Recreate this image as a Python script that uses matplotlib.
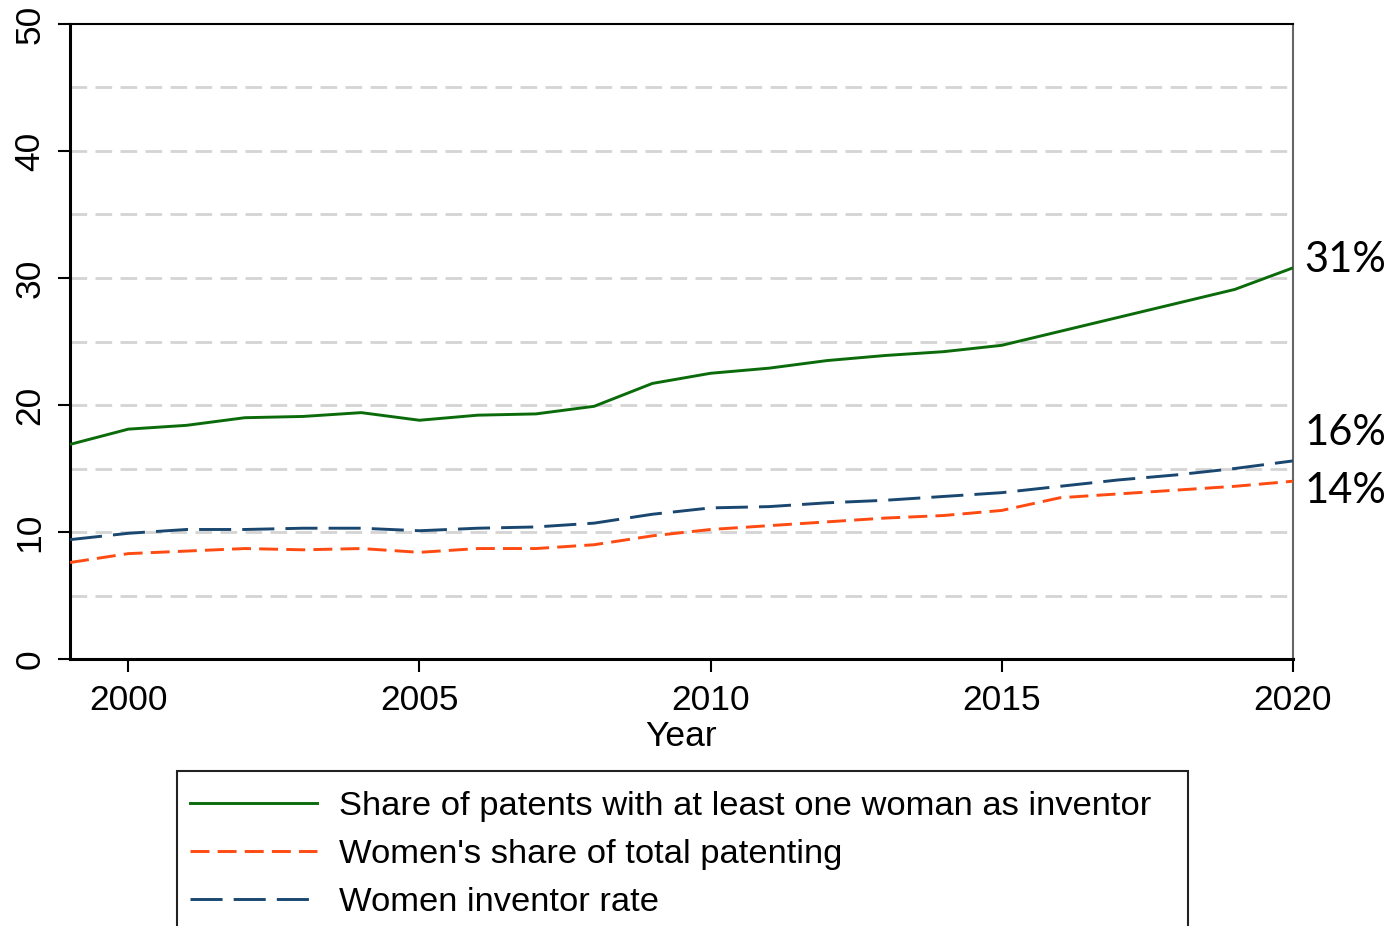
import matplotlib
matplotlib.use("Agg")
import matplotlib.pyplot as plt
from matplotlib.patches import Rectangle
from matplotlib.lines import Line2D

matplotlib.rcParams.update({
    "font.family": "Liberation Sans",
    "font.size": 25,
})

# ── data ──────────────────────────────────────────────────────────────────────
years = list(range(1999, 2021))
share_any_woman = [16.9, 18.1, 18.4, 19.0, 19.1, 19.4, 18.8, 19.2, 19.3, 19.9, 21.7,
                   22.5, 22.9, 23.5, 23.9, 24.2, 24.7, 25.8, 26.9, 28.0, 29.1, 30.8]
women_share = [7.6, 8.3, 8.5, 8.7, 8.6, 8.7, 8.4, 8.7, 8.7, 9.0, 9.7,
               10.2, 10.5, 10.8, 11.1, 11.3, 11.7, 12.7, 13.0, 13.3, 13.6, 14.0]
inventor_rate = [9.4, 9.9, 10.2, 10.2, 10.3, 10.3, 10.1, 10.3, 10.4, 10.7, 11.4,
                 11.9, 12.0, 12.3, 12.5, 12.8, 13.1, 13.6, 14.1, 14.5, 15.0, 15.6]
series_labels = ["Share of patents with at least one woman as inventor",
                 "Women's share of total patenting",
                 "Women inventor rate"]
end_labels = ["31%", "16%", "14%"]
end_label_y = [31.4, 17.8, 13.2]

C_GREEN = "#0b6b0b"
C_ORANGE = "#ff4a12"
C_BLUE = "#1a476f"
C_GRID = "#d4d4d4"

fig = plt.figure(figsize=(13.93, 9.26), dpi=100)
ax = fig.add_axes([0.0503, 0.2883, 0.8779, 0.6858])

# grid lines every 5
for gy in range(5, 50, 5):
    ax.axhline(gy, color=C_GRID, lw=2.0, dashes=(6, 3), zorder=1)

ax.plot(years, share_any_woman, color=C_GREEN, lw=2.1, zorder=3)
ax.plot(years, women_share, color=C_ORANGE, lw=2.1, dashes=(6.5, 2.8), zorder=3)
ax.plot(years, inventor_rate, color=C_BLUE, lw=2.1, dashes=(11, 3.8), zorder=3)

ax.set_xlim(1999, 2020)
ax.set_ylim(0, 50)
ax.set_xticks(range(2000, 2021, 5))
ax.set_yticks(range(0, 51, 10))
ax.tick_params(axis="both", length=9, width=1.5, colors="black", labelsize=25.5)
ax.tick_params(axis="y", labelrotation=90, pad=8)
for lbl in ax.get_yticklabels():
    lbl.set_va("center")
ax.tick_params(axis="x", pad=9)
ax.set_xlabel("Year", fontsize=25.5, labelpad=2)

ax.spines["left"].set_linewidth(2.2)
ax.spines["bottom"].set_linewidth(2.2)
ax.spines["top"].set_linewidth(1.5)
ax.spines["right"].set_linewidth(1.5)
ax.spines["right"].set_color("#666666")

for txt, ty in zip(end_labels, end_label_y):
    ax.text(2020.19, ty, txt, fontsize=30, family="Lato", va="center", ha="left",
            clip_on=False)

# ── legend (box runs off the bottom of the figure) ───────────────────────────
fig.patches.append(Rectangle((0.127, -0.05), 0.726, 0.2174, transform=fig.transFigure,
                             facecolor="white", edgecolor="#222222", lw=1.5))
handles = [Line2D([0], [0], color=C_GREEN, lw=2.1),
           Line2D([0], [0], color=C_ORANGE, lw=2.1, dashes=(6.5, 2.8)),
           Line2D([0], [0], color=C_BLUE, lw=2.1, dashes=(11, 3.8))]
fig.legend(handles, series_labels, loc="upper left", bbox_to_anchor=(0.1265, 0.161),
           frameon=False, fontsize=24.8, handlelength=3.7, handletextpad=0.62,
           labelspacing=0.5, borderaxespad=0)

fig.savefig("out.png", dpi=100, facecolor="white")
